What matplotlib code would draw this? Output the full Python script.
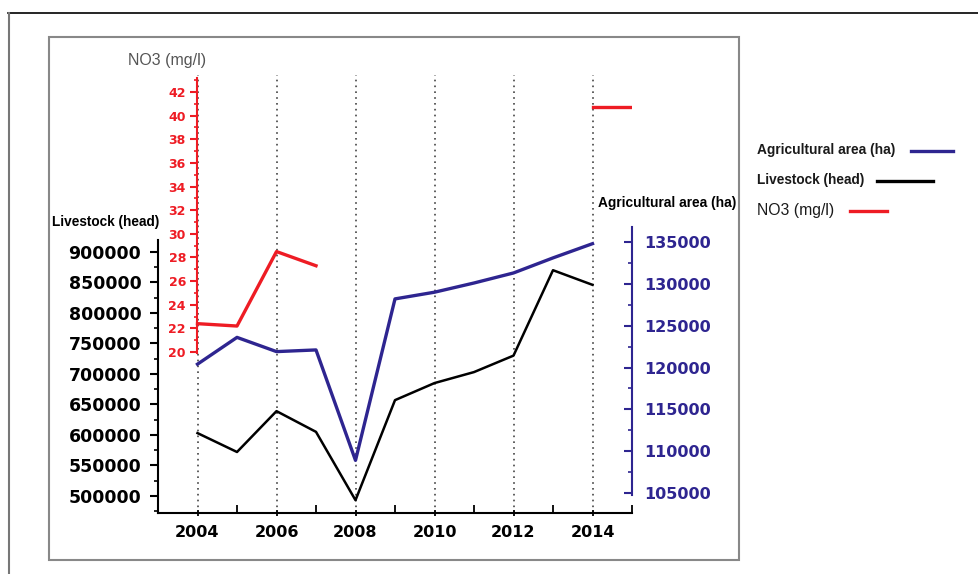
import matplotlib.pyplot as plt
from matplotlib.lines import Line2D
from matplotlib.patches import Rectangle
from matplotlib.ticker import FixedLocator

years = [2004, 2005, 2006, 2007, 2008, 2009, 2010, 2011, 2012, 2013, 2014]
livestock = [603000, 572000, 639000, 605000, 493000, 657000, 685000, 703000, 730000, 870000, 846000]
agri_area = [120400, 123600, 121900, 122100, 108900, 128200, 129000, 130100, 131300, 133100, 134800]

no3_years_a = [2004, 2005, 2006, 2007]
no3_a = [22.4, 22.2, 28.5, 27.3]
no3_years_b = [2014, 2015]
no3_b = [40.7, 40.7]

navy = '#2e2590'
red = '#ee1c24'
arial = ['Liberation Sans', 'DejaVu Sans']

W, H = 979, 574
fig = plt.figure(figsize=(W / 100, H / 100), dpi=100)

def fx(px):
    return px / W

def fy(py):
    return 1 - py / H

# frames around the figure
fig.add_artist(Line2D([fx(8), fx(978)], [fy(13), fy(13)], color='black', lw=1.2))
fig.add_artist(Line2D([fx(9), fx(9)], [fy(13), fy(574)], color='#777777', lw=1.5))
fig.add_artist(Rectangle((fx(49), fy(560)), fx(739 - 49), (560 - 37) / H,
                         fill=False, edgecolor='#888888', lw=1.5))

left, right, top, bottom = 158, 632, 75, 513
ax = fig.add_axes([fx(left), fy(bottom), fx(right - left), (bottom - top) / H])

# livestock axis (left)
ax.set_xlim(2003, 2015)
ax.set_ylim(472000, 1190000)
ax.plot(years, livestock, color='black', lw=1.8, zorder=3)
for s in ['top', 'right']:
    ax.spines[s].set_visible(False)
ax.spines['left'].set_bounds(472000, 920000)
ax.spines['left'].set_linewidth(1.5)
ax.spines['bottom'].set_linewidth(1.5)
ax.yaxis.set_major_locator(FixedLocator(list(range(500000, 950000, 50000))))
ax.yaxis.set_minor_locator(FixedLocator(list(range(475000, 925000, 50000))))
ax.tick_params(axis='y', which='major', length=6, width=1.5, labelsize=12.5, pad=6)
ax.tick_params(axis='y', which='minor', length=3, width=1.2)
for lab in ax.get_yticklabels():
    lab.set_fontweight('bold')

ax.xaxis.set_major_locator(FixedLocator([2004, 2006, 2008, 2010, 2012, 2014]))
ax.xaxis.set_minor_locator(FixedLocator([2003, 2005, 2007, 2009, 2011, 2013, 2015]))
ax.tick_params(axis='x', which='major', length=5, width=1.3, direction='inout', labelsize=11.5, pad=6)
ax.tick_params(axis='x', which='minor', length=6, width=1.3, direction='in')
for lab in ax.get_xticklabels():
    lab.set_fontweight('bold')
for yr in [2004, 2006, 2008, 2010, 2012, 2014]:
    ax.axvline(yr, color='#444444', lw=1.2, ls=(0, (1, 2.5)), zorder=1)
ax.patch.set_alpha(0)

# agricultural area axis (right)
ax2 = ax.twinx()
ax2.set_ylim(102610, 154960)
ax2.plot(years, agri_area, color=navy, lw=2.4, zorder=3)
for s in ['top', 'left', 'bottom']:
    ax2.spines[s].set_visible(False)
ax2.spines['right'].set_bounds(104760, 136790)
ax2.spines['right'].set_color(navy)
ax2.spines['right'].set_linewidth(1.5)
ax2.yaxis.set_major_locator(FixedLocator(list(range(105000, 140000, 5000))))
ax2.yaxis.set_minor_locator(FixedLocator(list(range(107500, 137500, 5000))))
ax2.tick_params(axis='y', which='major', direction='in', length=6, width=1.5,
                color=navy, labelcolor=navy, labelsize=11.5, pad=9)
ax2.tick_params(axis='y', which='minor', direction='in', length=3, width=1.2, color=navy)
for lab in ax2.get_yticklabels():
    lab.set_fontweight('bold')

# NO3 axis (inner left)
ax3 = ax.twinx()
ax3.set_ylim(6.38, 43.44)
ax3.plot(no3_years_a, no3_a, color=red, lw=2.4, zorder=3)
ax3.plot(no3_years_b, no3_b, color=red, lw=2.4, zorder=3)
for s in ['top', 'right', 'bottom']:
    ax3.spines[s].set_visible(False)
ax3.yaxis.set_ticks_position('left')
ax3.yaxis.set_label_position('left')
ax3.spines['left'].set_position(('axes', (197 - left) / (right - left)))
ax3.spines['left'].set_bounds(19.9, 43.2)
ax3.spines['left'].set_color(red)
ax3.spines['left'].set_linewidth(1.5)
ax3.yaxis.set_major_locator(FixedLocator(list(range(20, 44, 2))))
ax3.yaxis.set_minor_locator(FixedLocator(list(range(21, 44, 2))))
ax3.tick_params(axis='y', which='major', length=5, width=1.5, color=red,
                labelcolor=red, labelsize=9, pad=3)
ax3.tick_params(axis='y', which='minor', length=2.5, width=1.2, color=red)
for lab in ax3.get_yticklabels():
    lab.set_fontweight('bold')

# axis titles
fig.text(fx(167), fy(60), 'NO3 (mg/l)', color='#555555', fontsize=11.5,
         family=arial, ha='center', va='center')
fig.text(fx(106), fy(222), 'Livestock (head)', fontsize=9.8, fontweight='bold',
         family=arial, ha='center', va='center')
fig.text(fx(667), fy(203), 'Agricultural area (ha)', fontsize=9.9, fontweight='bold',
         family=arial, ha='center', va='center')

# legend
leg_items = [
    ('Agricultural area (ha)', navy, 'bold', 9.9, 911, 953, 150),
    ('Livestock (head)', 'black', 'bold', 9.8, 877, 933, 180),
    ('NO3 (mg/l)', red, 'normal', 11.3, 850, 887, 210),
]
for text, col, weight, size, x0, x1, yy in leg_items:
    fig.text(fx(757), fy(yy), text, fontsize=size, fontweight=weight, color='#1a1a1a',
             family=arial, ha='left', va='center')
    fig.add_artist(Line2D([fx(x0), fx(x1)], [fy(yy + 1), fy(yy + 1)], color=col, lw=2.4))

fig.savefig('out.png', dpi=100)
